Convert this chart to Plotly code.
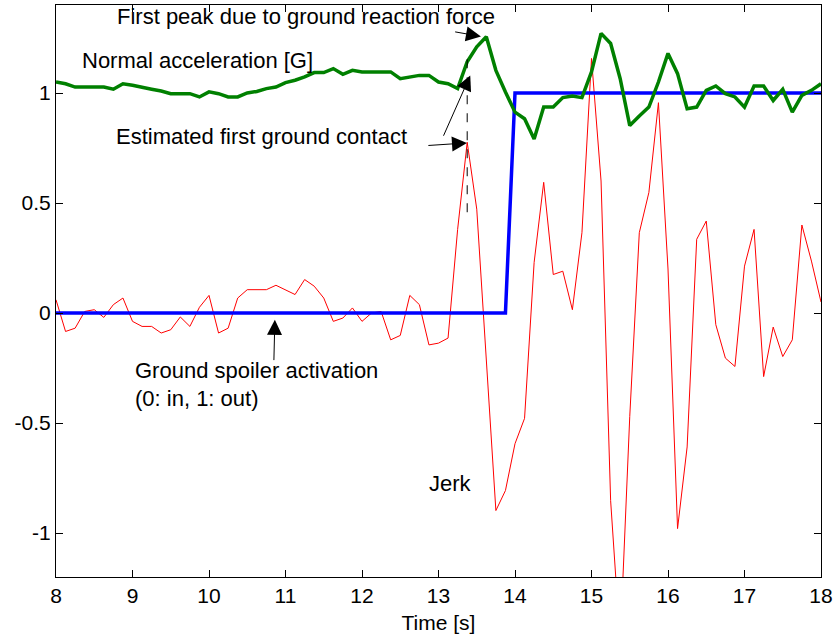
import numpy as np
import plotly.graph_objects as go

# ---- data (sampled every 0.125 s from 8 s to 18 s) ----
time_s = [8 + 0.125 * i for i in range(81)]

normal_accel = [
    1.05, 1.042, 1.027, 1.027, 1.027, 1.027, 1.017, 1.042, 1.035, 1.024,
    1.017, 1.009, 0.997, 0.997, 0.997, 0.982, 1.005, 0.997, 0.982, 0.982,
    1.0, 1.007, 1.02, 1.027, 1.047, 1.058, 1.073, 1.093, 1.093, 1.111,
    1.085, 1.103, 1.096, 1.096, 1.096, 1.096, 1.065, 1.073, 1.08, 1.08,
    1.05, 1.042, 1.02, 1.142, 1.21, 1.256, 1.103, 1.005, 0.913, 0.883,
    0.791, 0.936, 0.936, 0.979, 0.986, 0.979, 1.096, 1.271, 1.225, 1.065,
    0.852, 0.895, 0.936, 1.05, 1.18, 1.088, 0.928, 0.936, 1.012, 1.032,
    0.997, 0.982, 0.936, 1.032, 1.032, 0.966, 1.017, 0.913, 0.989, 1.012,
    1.042,
]

jerk = [
    0.06, -0.084, -0.069, 0.007, 0.015, -0.02, 0.038, 0.068, -0.038, -0.061,
    -0.061, -0.091, -0.076, -0.018, -0.061, 0.026, 0.08, -0.091, -0.069, 0.068,
    0.106, 0.106, 0.106, 0.126, 0.106, 0.084, 0.152, 0.122, 0.068, -0.038,
    -0.023, 0.023, -0.038, 0.0, 0.007, -0.122, -0.102, 0.08, 0.038, -0.145,
    -0.137, -0.114, 0.38, 0.776, 0.472, -0.2, -0.898, -0.807, -0.594, -0.479,
    0.23, 0.594, 0.175, 0.19, 0.015, 0.365, 1.157, 0.60, -0.853, -1.5,
    -0.47, 0.365, 0.548, 0.956, 0.2, -0.98, -0.609, 0.335, 0.418, -0.053,
    -0.205, -0.243, 0.213, 0.38, -0.289, -0.064, -0.198, -0.122, 0.40, 0.236,
    0.05,
]

spoiler = [0] * 48 + [1] * 33

x_ticks = [8, 9, 10, 11, 12, 13, 14, 15, 16, 17, 18]
y_ticks = [-1, -0.5, 0, 0.5, 1]
y_tick_labels = ["-1", "-0.5", "0", "0.5", "1"]

FONT = "Liberation Sans, Arial, sans-serif"

fig = go.Figure()
fig.add_trace(go.Scatter(x=time_s, y=jerk, mode="lines",
                         line=dict(color="#ff0000", width=1), name="Jerk"))
fig.add_trace(go.Scatter(x=time_s, y=spoiler, mode="lines",
                         line=dict(color="#0000ff", width=3.5), name="Spoiler"))
fig.add_trace(go.Scatter(x=time_s, y=normal_accel, mode="lines",
                         line=dict(color="#008000", width=3.5), name="Normal acceleration"))

# estimated first ground contact = jerk peak before spoiler deployment
idx_contact = int(np.argmax(jerk[:48]))
t_contact = time_s[idx_contact]

fig.add_shape(type="line", x0=t_contact, x1=t_contact, y0=0.458, y1=1.195,
              xref="x", yref="y", line=dict(color="black", width=1, dash="dash"))

txt = dict(font=dict(family=FONT, size=22, color="black"), showarrow=False,
           xanchor="left", yanchor="middle", xref="x", yref="y")
fig.add_annotation(text="First peak due to ground reaction force", x=8.768, y=1.348, **txt)
fig.add_annotation(text="Normal acceleration [G]", x=8.31, y=1.149, **txt)
fig.add_annotation(text="Estimated first ground contact", x=8.755, y=0.802, **txt)
fig.add_annotation(text="Ground spoiler activation", x=9.003, y=-0.263, **txt)
fig.add_annotation(text="(0: in, 1: out)", x=9.003, y=-0.388, **txt)
fig.add_annotation(text="Jerk", x=12.849, y=-0.776, **txt)

arr = dict(text="", showarrow=True, arrowhead=2, arrowsize=3, arrowwidth=1,
           arrowcolor="black", xref="x", yref="y", axref="x", ayref="y",
           standoff=0, startstandoff=0)
fig.add_annotation(x=13.555, y=1.257, ax=13.198, ay=1.279, **arr)
fig.add_annotation(x=13.372, y=0.773, ax=12.848, ay=0.761, **arr)
fig.add_annotation(x=13.415, y=1.080, ax=13.057, ay=0.799, **arr)
fig.add_annotation(x=10.861, y=-0.031, ax=10.848, ay=-0.221, **arr)

axis_common = dict(showline=True, linecolor="black", linewidth=1, mirror="ticks",
                   ticks="inside", ticklen=7, tickcolor="black", showgrid=False,
                   zeroline=False, tickfont=dict(family=FONT, size=21, color="black"))

fig.update_xaxes(range=[8, 18], tickvals=x_ticks,
                 title=dict(text="Time [s]", font=dict(family=FONT, size=21, color="black"),
                            standoff=9),
                 **axis_common)
fig.update_yaxes(range=[-1.2, 1.4], tickvals=y_ticks, ticktext=y_tick_labels,
                 **axis_common)

fig.update_layout(width=837, height=638, showlegend=False,
                  margin=dict(l=56, r=16, t=5, b=61),
                  plot_bgcolor="white", paper_bgcolor="white")

fig.write_html("out.html")
